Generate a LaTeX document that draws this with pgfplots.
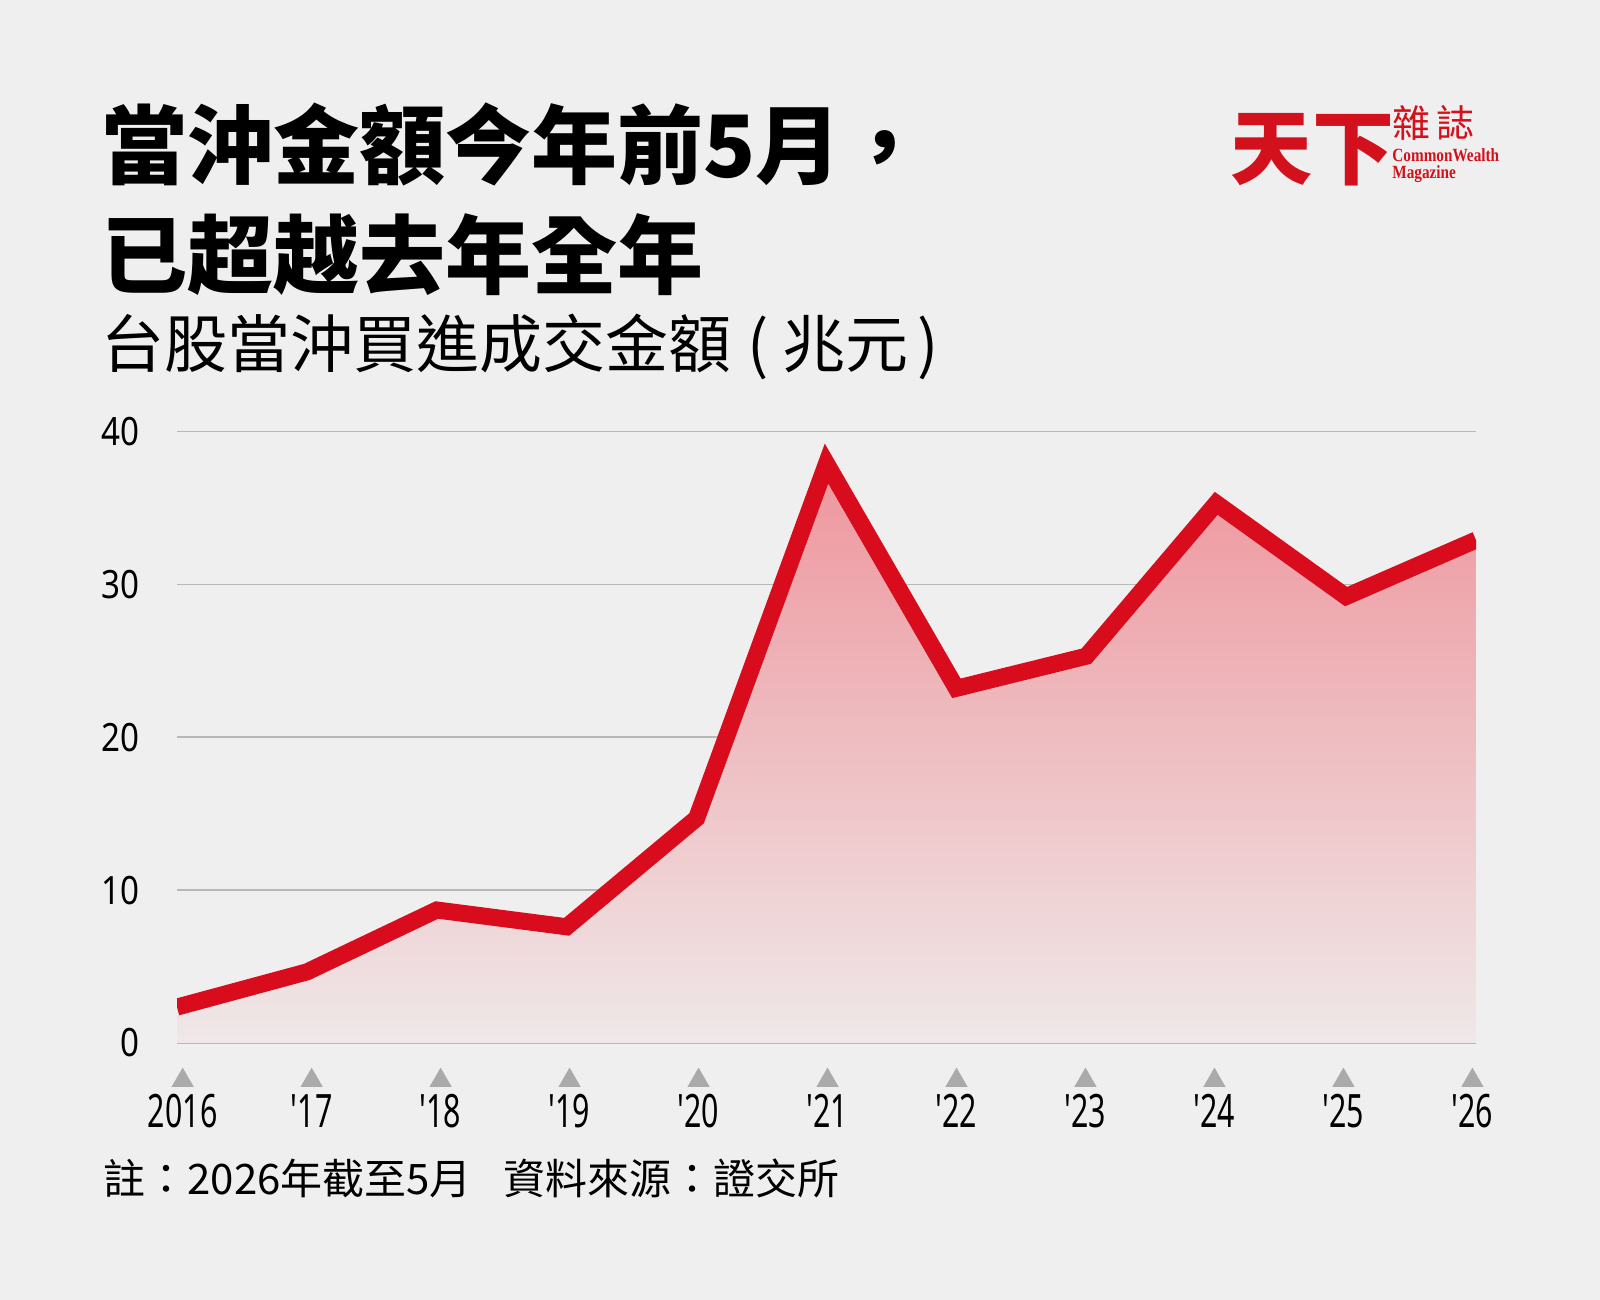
\documentclass[border=0pt]{standalone}
\usepackage{fontspec}
\usepackage{pgfplots}
\pgfplotsset{compat=1.18}
\setmainfont{Noto Sans CJK TC}
\newfontfamily\xnum[FakeStretch=0.66]{Noto Sans}
\newfontfamily\ynum[FakeStretch=0.85]{Noto Sans}
\newfontfamily\logoserif[FakeStretch=0.82]{Liberation Serif}
\definecolor{bg}{HTML}{EFEFEF}
\definecolor{linered}{HTML}{D80C1C}
\definecolor{filltop}{HTML}{EE969D}
\definecolor{gridc}{HTML}{B8B8B8}
\definecolor{tric}{HTML}{AAAAAA}
\definecolor{logored}{HTML}{D3111C}
\pgfplotstableread{
year val
2016 2.35
2017 4.65
2018 8.7
2019 7.6
2020 14.7
2021 37.9
2022 23.2
2023 25.3
2024 35.3
2025 29.2
2026 32.9
}\datatable
\begin{document}
\begin{tikzpicture}
\fill[bg] (0pt,0pt) rectangle (800pt,650pt);
% titles
\node[anchor=base west, inner sep=0pt, font=\fontsize{43}{43}\selectfont\bfseries] at (50.5pt,561pt) {當沖金額今年前5月，};
\node[anchor=base west, inner sep=0pt, font=\fontsize{43}{43}\selectfont\bfseries] at (50.5pt,506pt) {已超越去年全年};
\node[anchor=base west, inner sep=0pt, font=\fontsize{31.5}{31.5}\selectfont] at (50.5pt,466pt) {台股當沖買進成交金額\hspace{0.25em}(\hspace{0.22em}兆元\hspace{0.15em})};
\node[anchor=base west, inner sep=0pt, font=\fontsize{21}{21}\selectfont] at (51.5pt,52.5pt) {註：2026年截至5月\hspace{0.75em}資料來源：證交所};
% logo
\node[anchor=south west, inner sep=0pt, text=logored, font=\fontsize{41}{41}\selectfont\bfseries] at (615pt,557pt) {天下};
\node[anchor=base west, inner sep=0pt, text=logored] at (696pt,581pt) {\vtop{\lineskiplimit=-\maxdimen
  \hbox{\fontsize{19}{19}\selectfont 雜\hspace{0.15em}誌}
  \baselineskip=11.8pt
  \hbox{\fontsize{9.3}{9.3}\selectfont\logoserif\bfseries CommonWealth}
  \baselineskip=8.6pt
  \hbox{\fontsize{9.3}{9.3}\selectfont\logoserif\bfseries Magazine}}};
\begin{axis}[
  at={(88.5pt,128.5pt)}, anchor=south west,
  scale only axis, width=649.5pt, height=305.75pt,
  xmin=2016, xmax=2026, ymin=0, ymax=40,
  axis line style={draw=none},
  major tick length=0pt,
  ymajorgrids, grid style={color=gridc, line width=0.8pt},
  ytick={0,10,20,30,40},
  xtick=\empty,
  yticklabel style={anchor=east, xshift=-18.5pt, inner sep=0pt, font=\fontsize{19.5}{19.5}\selectfont\ynum},
  /pgf/number format/assume math mode=true,
  clip=true,
]
\addplot[draw=none, top color=filltop, bottom color=bg!92!filltop] table[x=year,y=val]{\datatable} \closedcycle;
\addplot[linered, line width=8.5pt, line join=miter] table[x=year,y=val]{\datatable};
\end{axis}
\begin{axis}[
  at={(88.5pt,128.5pt)}, anchor=south west,
  scale only axis, width=649.5pt, height=305.75pt,
  xmin=2015.956, xmax=2026.028, ymin=0, ymax=40,
  axis line style={draw=none}, clip=false,
  major tick length=0pt,
  ytick=\empty,
  xtick={2016,...,2026},
  xticklabels={2016,{'}17,{'}18,{'}19,{'}20,{'}21,{'}22,{'}23,{'}24,{'}25,{'}26},
  xticklabel style={anchor=base, yshift=-42.5pt, inner sep=0pt, font=\fontsize{23}{23}\selectfont\xnum},
]
\addplot[only marks, mark=triangle*, mark size=6pt, color=tric] coordinates {(2016,-2.45) (2017,-2.45) (2018,-2.45) (2019,-2.45) (2020,-2.45) (2021,-2.45) (2022,-2.45) (2023,-2.45) (2024,-2.45) (2025,-2.45) (2026,-2.45)};
\end{axis}
\end{tikzpicture}
\end{document}
